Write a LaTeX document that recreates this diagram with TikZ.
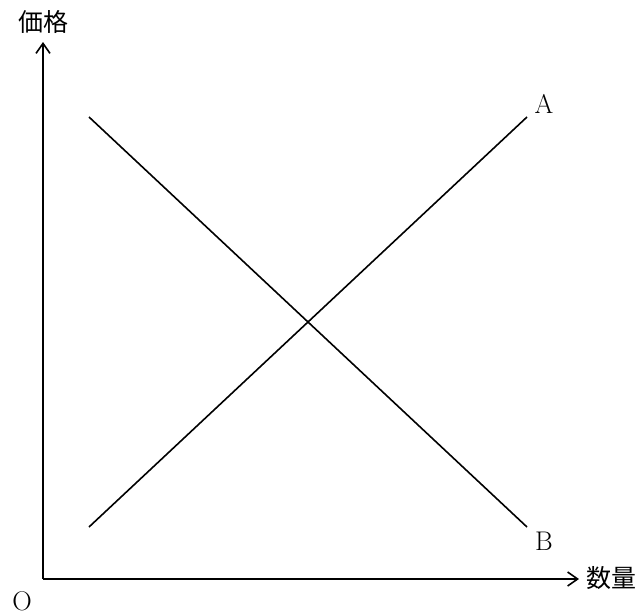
\documentclass[tikz,border=0pt]{standalone}
\usepackage{fontspec}
\newfontfamily\cjk{Noto Sans CJK JP}
\usetikzlibrary{arrows.meta}
\begin{document}
\begin{tikzpicture}[x=1pt,y=-1pt,
  axis/.style={line width=1.6pt,-{Straight Barb[length=10pt,width=14pt,line width=1.6pt]}},
  curve/.style={line width=1.6pt},
  lbl/.style={inner sep=0pt,font=\fontsize{27}{27}\selectfont},
  cjklbl/.style={inner sep=0pt,font=\cjk\fontsize{25}{25}\selectfont}]
\useasboundingbox (0,0) rectangle (638,613);
\coordinate (o) at (43,579);
\coordinate (ytop) at (43,42);
\coordinate (xend) at (579,579);
\coordinate (a1) at (89,527);
\coordinate (a2) at (527,117);
\coordinate (b1) at (89,117);
\coordinate (b2) at (527,527);
\draw[axis] (o) -- (ytop);
\draw[axis] (o) -- (xend);
\draw[curve] (a1) -- (a2);
\draw[curve] (b1) -- (b2);
\node[cjklbl] (price) at (43,22) {価格};
\node[cjklbl] (qty) at (611,578) {数量};
\node[lbl] (la) at (544,104) {A};
\node[lbl] (lb) at (544,541) {B};
\node[lbl] (lo) at (22,601) {O};
\end{tikzpicture}
\end{document}
